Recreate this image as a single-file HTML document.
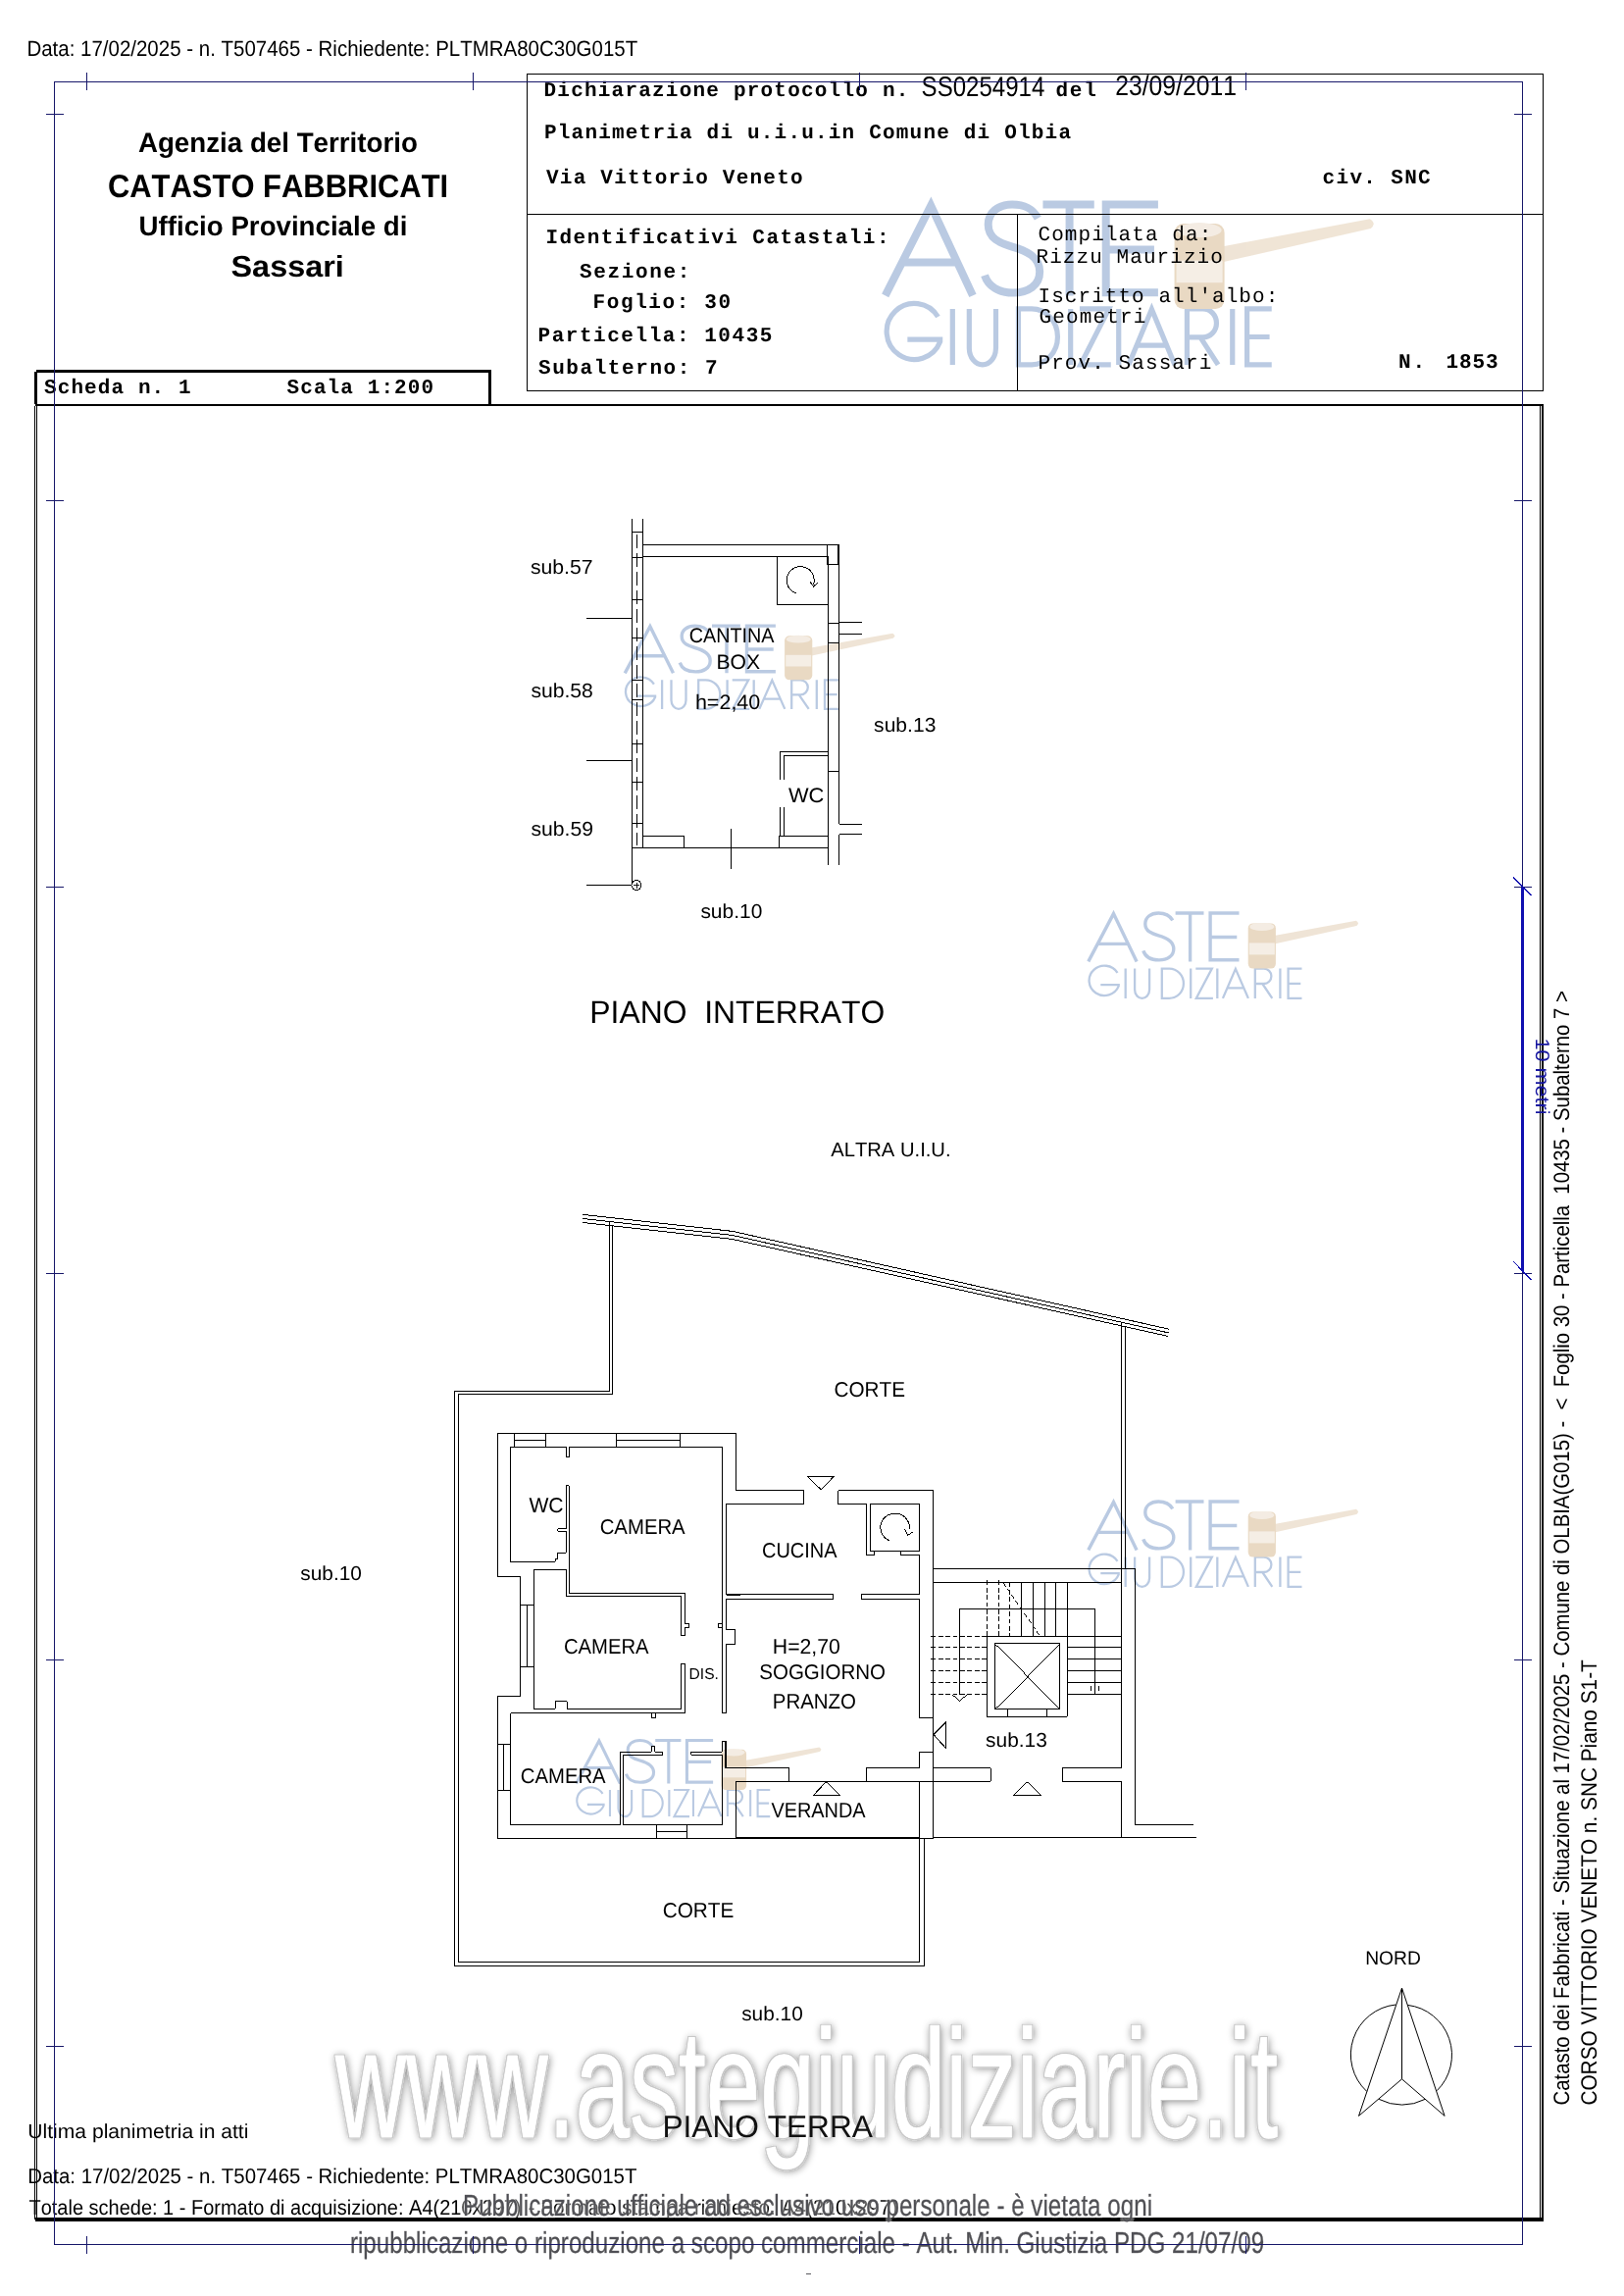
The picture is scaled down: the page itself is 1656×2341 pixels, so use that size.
<!DOCTYPE html>
<html><head><meta charset="utf-8"><title>Planimetria</title>
<style>
html,body{margin:0;padding:0;background:#fff;}
body{width:1656px;height:2341px;overflow:hidden;position:relative;font-family:"Liberation Sans",sans-serif;}
svg{position:absolute;left:0;top:0;will-change:transform;}
text{font-kerning:none;white-space:pre;}
</style></head><body>
<svg width="1656" height="2341" viewBox="0 0 1656 2341" shape-rendering="crispEdges" text-rendering="geometricPrecision">
<defs>
<filter id="wmsh" x="-5%" y="-30%" width="110%" height="160%">
  <feGaussianBlur in="SourceAlpha" stdDeviation="4" result="b"/>
  <feOffset in="b" dx="0.6" dy="1.4" result="o"/>
  <feComponentTransfer in="o" result="s"><feFuncA type="linear" slope="0.55"/></feComponentTransfer>
  <feMorphology in="SourceAlpha" operator="dilate" radius="1" result="d"/>
  <feComposite in="d" in2="SourceAlpha" operator="out" result="ring"/>
  <feFlood flood-color="#c8c8c8" result="fc"/>
  <feComposite in="fc" in2="ring" operator="in" result="ringc"/>
  <feMerge><feMergeNode in="s"/><feMergeNode in="SourceGraphic"/><feMergeNode in="ringc"/></feMerge>
</filter>
<filter id="halo" x="-5%" y="-30%" width="110%" height="160%">
  <feMorphology in="SourceAlpha" operator="dilate" radius="1.5" result="d"/>
  <feFlood flood-color="#ffffff" flood-opacity="0.35"/>
  <feComposite in2="d" operator="in" result="w"/>
  <feMerge><feMergeNode in="w"/><feMergeNode in="SourceGraphic"/></feMerge>
</filter>
</defs>
<rect x="0" y="0" width="1656" height="2341" fill="#fff"/>
<g transform="translate(900,205.5) scale(1.81,1.88)" fill="none" shape-rendering="auto" opacity="0.9">
<path d="M1.5,51 L27.2,2.2 L50.8,51 M9.8,33 H43.2 M87.5,9 C84,3 79,1.6 73,1.6 C65,1.6 59.5,6 59.5,12.5 C59.5,20 66,22.5 73,24.5 C81,26.7 88.5,30 88.5,38 C88.5,45.5 82,49.5 73.5,49.5 C65.5,49.5 59.5,46 57.5,40 M90.3,1.6 H119.2 M105.3,1.6 V51 M155.2,1.6 H125.8 V49.4 H155.2 M125.8,26.1 H153" stroke="#b3c5df" stroke-width="8.0" vector-effect="non-scaling-stroke" stroke-linejoin="miter"/>
<path d="M31.2,62.5 A15.6,15.2 0 1 0 32.4,76 V74.8 H14 M39.4,58.2 V88.5 M48.8,58.2 V79.5 A7.5,9 0 0 0 63.8,79.5 V58.2 M76.5,58.2 H84 A14.6,15.15 0 0 1 84,88.5 H76.5 Z M105.9,58.2 V88.5 M111,58.2 H127.5 L111.5,88.5 H128.6 M133,58.2 V88.5 M138.6,88.5 L151.6,58.4 L164.6,88.5 M143.3,78 H159.9 M171.5,88.5 V58.2 H180.5 A7.6,7.7 0 0 1 180.5,73.6 H171.5 M179,73.6 L189,88.5 M197.1,58.2 V88.5 M219.2,58.2 H205.3 V88.5 H219.2 M205.3,73.4 H218" stroke="#b3c5df" stroke-width="5.2" vector-effect="non-scaling-stroke"/>
<g>
<path d="M191,24.5 L274.5,9.4 Q278.5,11.8 275,14.6 L191,33 Z" fill="#eee2d2" stroke="none"/>
<rect x="164.4" y="12" width="28.2" height="46.2" rx="5" fill="#e7d5bd" stroke="none"/>
<rect x="165.5" y="32" width="26" height="12" fill="#f4ede3" stroke="none"/>
<ellipse cx="178.5" cy="15.5" rx="12.5" ry="4" fill="#f3ebe0" stroke="none"/>
</g>
</g>
<g transform="translate(635.7,636.6) scale(1.0,0.975)" fill="none" shape-rendering="auto" opacity="0.9">
<path d="M1.5,51 L27.2,2.2 L50.8,51 M9.8,33 H43.2 M87.5,9 C84,3 79,1.6 73,1.6 C65,1.6 59.5,6 59.5,12.5 C59.5,20 66,22.5 73,24.5 C81,26.7 88.5,30 88.5,38 C88.5,45.5 82,49.5 73.5,49.5 C65.5,49.5 59.5,46 57.5,40 M90.3,1.6 H119.2 M105.3,1.6 V51 M155.2,1.6 H125.8 V49.4 H155.2 M125.8,26.1 H153" stroke="#b3c5df" stroke-width="3.4" vector-effect="non-scaling-stroke" stroke-linejoin="miter"/>
<path d="M31.2,62.5 A15.6,15.2 0 1 0 32.4,76 V74.8 H14 M39.4,58.2 V88.5 M48.8,58.2 V79.5 A7.5,9 0 0 0 63.8,79.5 V58.2 M76.5,58.2 H84 A14.6,15.15 0 0 1 84,88.5 H76.5 Z M105.9,58.2 V88.5 M111,58.2 H127.5 L111.5,88.5 H128.6 M133,58.2 V88.5 M138.6,88.5 L151.6,58.4 L164.6,88.5 M143.3,78 H159.9 M171.5,88.5 V58.2 H180.5 A7.6,7.7 0 0 1 180.5,73.6 H171.5 M179,73.6 L189,88.5 M197.1,58.2 V88.5 M219.2,58.2 H205.3 V88.5 H219.2 M205.3,73.4 H218" stroke="#b3c5df" stroke-width="2.3" vector-effect="non-scaling-stroke"/>
<g>
<path d="M191,24.5 L274.5,9.4 Q278.5,11.8 275,14.6 L191,33 Z" fill="#eee2d2" stroke="none"/>
<rect x="164.4" y="12" width="28.2" height="46.2" rx="5" fill="#e7d5bd" stroke="none"/>
<rect x="165.5" y="32" width="26" height="12" fill="#f4ede3" stroke="none"/>
<ellipse cx="178.5" cy="15.5" rx="12.5" ry="4" fill="#f3ebe0" stroke="none"/>
</g>
</g>
<g transform="translate(1108.3,929.4) scale(1.0,1.0)" fill="none" shape-rendering="auto" opacity="0.9">
<path d="M1.5,51 L27.2,2.2 L50.8,51 M9.8,33 H43.2 M87.5,9 C84,3 79,1.6 73,1.6 C65,1.6 59.5,6 59.5,12.5 C59.5,20 66,22.5 73,24.5 C81,26.7 88.5,30 88.5,38 C88.5,45.5 82,49.5 73.5,49.5 C65.5,49.5 59.5,46 57.5,40 M90.3,1.6 H119.2 M105.3,1.6 V51 M155.2,1.6 H125.8 V49.4 H155.2 M125.8,26.1 H153" stroke="#b3c5df" stroke-width="3.4" vector-effect="non-scaling-stroke" stroke-linejoin="miter"/>
<path d="M31.2,62.5 A15.6,15.2 0 1 0 32.4,76 V74.8 H14 M39.4,58.2 V88.5 M48.8,58.2 V79.5 A7.5,9 0 0 0 63.8,79.5 V58.2 M76.5,58.2 H84 A14.6,15.15 0 0 1 84,88.5 H76.5 Z M105.9,58.2 V88.5 M111,58.2 H127.5 L111.5,88.5 H128.6 M133,58.2 V88.5 M138.6,88.5 L151.6,58.4 L164.6,88.5 M143.3,78 H159.9 M171.5,88.5 V58.2 H180.5 A7.6,7.7 0 0 1 180.5,73.6 H171.5 M179,73.6 L189,88.5 M197.1,58.2 V88.5 M219.2,58.2 H205.3 V88.5 H219.2 M205.3,73.4 H218" stroke="#b3c5df" stroke-width="2.3" vector-effect="non-scaling-stroke"/>
<g>
<path d="M191,24.5 L274.5,9.4 Q278.5,11.8 275,14.6 L191,33 Z" fill="#eee2d2" stroke="none"/>
<rect x="164.4" y="12" width="28.2" height="46.2" rx="5" fill="#e7d5bd" stroke="none"/>
<rect x="165.5" y="32" width="26" height="12" fill="#f4ede3" stroke="none"/>
<ellipse cx="178.5" cy="15.5" rx="12.5" ry="4" fill="#f3ebe0" stroke="none"/>
</g>
</g>
<g transform="translate(1108.3,1529.4) scale(1.0,1.0)" fill="none" shape-rendering="auto" opacity="0.9">
<path d="M1.5,51 L27.2,2.2 L50.8,51 M9.8,33 H43.2 M87.5,9 C84,3 79,1.6 73,1.6 C65,1.6 59.5,6 59.5,12.5 C59.5,20 66,22.5 73,24.5 C81,26.7 88.5,30 88.5,38 C88.5,45.5 82,49.5 73.5,49.5 C65.5,49.5 59.5,46 57.5,40 M90.3,1.6 H119.2 M105.3,1.6 V51 M155.2,1.6 H125.8 V49.4 H155.2 M125.8,26.1 H153" stroke="#b3c5df" stroke-width="3.4" vector-effect="non-scaling-stroke" stroke-linejoin="miter"/>
<path d="M31.2,62.5 A15.6,15.2 0 1 0 32.4,76 V74.8 H14 M39.4,58.2 V88.5 M48.8,58.2 V79.5 A7.5,9 0 0 0 63.8,79.5 V58.2 M76.5,58.2 H84 A14.6,15.15 0 0 1 84,88.5 H76.5 Z M105.9,58.2 V88.5 M111,58.2 H127.5 L111.5,88.5 H128.6 M133,58.2 V88.5 M138.6,88.5 L151.6,58.4 L164.6,88.5 M143.3,78 H159.9 M171.5,88.5 V58.2 H180.5 A7.6,7.7 0 0 1 180.5,73.6 H171.5 M179,73.6 L189,88.5 M197.1,58.2 V88.5 M219.2,58.2 H205.3 V88.5 H219.2 M205.3,73.4 H218" stroke="#b3c5df" stroke-width="2.3" vector-effect="non-scaling-stroke"/>
<g>
<path d="M191,24.5 L274.5,9.4 Q278.5,11.8 275,14.6 L191,33 Z" fill="#eee2d2" stroke="none"/>
<rect x="164.4" y="12" width="28.2" height="46.2" rx="5" fill="#e7d5bd" stroke="none"/>
<rect x="165.5" y="32" width="26" height="12" fill="#f4ede3" stroke="none"/>
<ellipse cx="178.5" cy="15.5" rx="12.5" ry="4" fill="#f3ebe0" stroke="none"/>
</g>
</g>
<g transform="translate(586.2,1773) scale(0.908,0.894)" fill="none" shape-rendering="auto" opacity="0.9">
<path d="M1.5,51 L27.2,2.2 L50.8,51 M9.8,33 H43.2 M87.5,9 C84,3 79,1.6 73,1.6 C65,1.6 59.5,6 59.5,12.5 C59.5,20 66,22.5 73,24.5 C81,26.7 88.5,30 88.5,38 C88.5,45.5 82,49.5 73.5,49.5 C65.5,49.5 59.5,46 57.5,40 M90.3,1.6 H119.2 M105.3,1.6 V51 M155.2,1.6 H125.8 V49.4 H155.2 M125.8,26.1 H153" stroke="#b3c5df" stroke-width="3.1" vector-effect="non-scaling-stroke" stroke-linejoin="miter"/>
<path d="M31.2,62.5 A15.6,15.2 0 1 0 32.4,76 V74.8 H14 M39.4,58.2 V88.5 M48.8,58.2 V79.5 A7.5,9 0 0 0 63.8,79.5 V58.2 M76.5,58.2 H84 A14.6,15.15 0 0 1 84,88.5 H76.5 Z M105.9,58.2 V88.5 M111,58.2 H127.5 L111.5,88.5 H128.6 M133,58.2 V88.5 M138.6,88.5 L151.6,58.4 L164.6,88.5 M143.3,78 H159.9 M171.5,88.5 V58.2 H180.5 A7.6,7.7 0 0 1 180.5,73.6 H171.5 M179,73.6 L189,88.5 M197.1,58.2 V88.5 M219.2,58.2 H205.3 V88.5 H219.2 M205.3,73.4 H218" stroke="#b3c5df" stroke-width="2.1" vector-effect="non-scaling-stroke"/>
<g>
<path d="M191,24.5 L274.5,9.4 Q278.5,11.8 275,14.6 L191,33 Z" fill="#eee2d2" stroke="none"/>
<rect x="164.4" y="12" width="28.2" height="46.2" rx="5" fill="#e7d5bd" stroke="none"/>
<rect x="165.5" y="32" width="26" height="12" fill="#f4ede3" stroke="none"/>
<ellipse cx="178.5" cy="15.5" rx="12.5" ry="4" fill="#f3ebe0" stroke="none"/>
</g>
</g>
<path d="M35.5,413.5 V2263 M37.6,413.5 V2263" fill="none" stroke="#000" stroke-width="1.0" />
<path d="M1570.5,413 V2263 M1573,413 V2263" fill="none" stroke="#000" stroke-width="1.3" />
<path d="M36,412.8 H1573.5" fill="none" stroke="#000" stroke-width="2.2" />
<path d="M36,2263 H1573.5" fill="none" stroke="#000" stroke-width="3.2" />
<path d="M36.5,378.5 H499.5 V412 M36.5,378.5 V412" fill="none" stroke="#000" stroke-width="2.5" />
<path d="M537.5,75.5 H1573.5 V398.5 H537.5 Z" fill="none" stroke="#000" stroke-width="1.3" />
<path d="M537.5,218.8 H1573.5 M1037.5,218.8 V398.5" fill="none" stroke="#000" stroke-width="1.3" />
<text x="27.4" y="57.3" font-family='"Liberation Sans", sans-serif' font-size="22.2" font-weight="normal" fill="#000" textLength="622.8" lengthAdjust="spacingAndGlyphs" >Data: 17/02/2025 - n. T507465 - Richiedente: PLTMRA80C30G015T</text>
<text x="140.9" y="154.6" font-family='"Liberation Sans", sans-serif' font-size="28.2" font-weight="bold" fill="#000" textLength="285.0" lengthAdjust="spacingAndGlyphs" >Agenzia del Territorio</text>
<text x="109.9" y="201.2" font-family='"Liberation Sans", sans-serif' font-size="33" font-weight="bold" fill="#000" textLength="347.3" lengthAdjust="spacingAndGlyphs" >CATASTO FABBRICATI</text>
<text x="141.6" y="239.8" font-family='"Liberation Sans", sans-serif' font-size="27.9" font-weight="bold" fill="#000" textLength="273.8" lengthAdjust="spacingAndGlyphs" >Ufficio Provinciale di</text>
<text x="235.5" y="282.1" font-family='"Liberation Sans", sans-serif' font-size="30.5" font-weight="bold" fill="#000" textLength="115.3" lengthAdjust="spacingAndGlyphs" >Sassari</text>
<text x="554.5" y="97.7" font-family='"Liberation Mono", monospace' font-size="21.0" font-weight="bold" fill="#000" textLength="371.8" lengthAdjust="spacing" >Dichiarazione protocollo n.</text>
<text x="939.6" y="97.5" font-family='"Liberation Sans", sans-serif' font-size="28.5" font-weight="normal" fill="#000" textLength="125.7" lengthAdjust="spacingAndGlyphs" >SS0254914</text>
<text x="1076.5" y="97.7" font-family='"Liberation Mono", monospace' font-size="21.0" font-weight="bold" fill="#000" textLength="41.3" lengthAdjust="spacing" >del</text>
<text x="1137.2" y="97.3" font-family='"Liberation Sans", sans-serif' font-size="28.5" font-weight="normal" fill="#000" textLength="123.8" lengthAdjust="spacingAndGlyphs" >23/09/2011</text>
<text x="555.0" y="141.0" font-family='"Liberation Mono", monospace' font-size="21.0" font-weight="bold" fill="#000" textLength="537.0" lengthAdjust="spacing" >Planimetria di u.i.u.in Comune di Olbia</text>
<text x="557.0" y="186.8" font-family='"Liberation Mono", monospace' font-size="21.0" font-weight="bold" fill="#000" textLength="261.6" lengthAdjust="spacing" >Via Vittorio Veneto</text>
<text x="1348.5" y="187.0" font-family='"Liberation Mono", monospace' font-size="21.0" font-weight="bold" fill="#000" textLength="110.2" lengthAdjust="spacing" >civ. SNC</text>
<text x="556.5" y="247.7" font-family='"Liberation Mono", monospace' font-size="21.0" font-weight="bold" fill="#000" textLength="350.0" lengthAdjust="spacing" >Identificativi Catastali:</text>
<text x="591.0" y="282.7" font-family='"Liberation Mono", monospace' font-size="21.0" font-weight="bold" fill="#000" textLength="112.4" lengthAdjust="spacing" >Sezione:</text>
<text x="604.5" y="314.0" font-family='"Liberation Mono", monospace' font-size="21.0" font-weight="bold" fill="#000" textLength="140.5" lengthAdjust="spacing" >Foglio: 30</text>
<text x="548.5" y="347.7" font-family='"Liberation Mono", monospace' font-size="21.0" font-weight="bold" fill="#000" textLength="238.9" lengthAdjust="spacing" >Particella: 10435</text>
<text x="549.0" y="381.0" font-family='"Liberation Mono", monospace' font-size="21.0" font-weight="bold" fill="#000" textLength="182.7" lengthAdjust="spacing" >Subalterno: 7</text>
<text x="1058.5" y="245.0" font-family='"Liberation Mono", monospace' font-size="21.0" font-weight="normal" fill="#000" textLength="176.8" lengthAdjust="spacing" >Compilata da:</text>
<text x="1056.5" y="268.0" font-family='"Liberation Mono", monospace' font-size="21.0" font-weight="normal" fill="#000" textLength="190.4" lengthAdjust="spacing" >Rizzu Maurizio</text>
<text x="1058.5" y="307.5" font-family='"Liberation Mono", monospace' font-size="21.0" font-weight="normal" fill="#000" textLength="244.8" lengthAdjust="spacing" >Iscritto all'albo:</text>
<text x="1059.5" y="329.0" font-family='"Liberation Mono", monospace' font-size="21.0" font-weight="normal" fill="#000" textLength="108.8" lengthAdjust="spacing" >Geometri</text>
<text x="1058.5" y="376.0" font-family='"Liberation Mono", monospace' font-size="21.0" font-weight="normal" fill="#000" textLength="176.8" lengthAdjust="spacing" >Prov. Sassari</text>
<text x="1426.0" y="375.0" font-family='"Liberation Mono", monospace' font-size="21.0" font-weight="bold" fill="#000" textLength="27.2" lengthAdjust="spacing" >N.</text>
<text x="1474.5" y="375.0" font-family='"Liberation Mono", monospace' font-size="21.0" font-weight="bold" fill="#000" textLength="53.2" lengthAdjust="spacing" >1853</text>
<text x="45.0" y="400.7" font-family='"Liberation Mono", monospace' font-size="21.0" font-weight="bold" fill="#000" textLength="149.6" lengthAdjust="spacing" >Scheda n. 1</text>
<text x="292.5" y="400.7" font-family='"Liberation Mono", monospace' font-size="21.0" font-weight="bold" fill="#000" textLength="149.6" lengthAdjust="spacing" >Scala 1:200</text>
<g transform="translate(1599.7,2145.5) rotate(-90)">
<text x="-1.0" y="0.0" font-family='"Liberation Sans", sans-serif' font-size="22.6" font-weight="normal" fill="#000" textLength="1136.4" lengthAdjust="spacingAndGlyphs" >Catasto dei Fabbricati - Situazione al 17/02/2025 - Comune di OLBIA(G015) -  &lt;  Foglio 30 - Particella  10435 - Subalterno 7 &gt;</text>
</g>
<g transform="translate(1627.7,2145.5) rotate(-90)">
<text x="-1.1" y="0.0" font-family='"Liberation Sans", sans-serif' font-size="22.6" font-weight="normal" fill="#000" textLength="454.4" lengthAdjust="spacingAndGlyphs" >CORSO VITTORIO VENETO n. SNC Piano S1-T</text>
</g>
<g transform="translate(1566,1060.2) rotate(90)">
<text x="-1.6" y="0.0" font-family='"Liberation Sans", sans-serif' font-size="20" font-weight="normal" fill="#1515a0" textLength="77.9" lengthAdjust="spacingAndGlyphs" >10 metri</text>
</g>
<text x="28.3" y="2179.6" font-family='"Liberation Sans", sans-serif' font-size="20.5" font-weight="normal" fill="#000" textLength="225.1" lengthAdjust="spacingAndGlyphs" >Ultima planimetria in atti</text>
<text x="28.2" y="2226.4" font-family='"Liberation Sans", sans-serif' font-size="21.5" font-weight="normal" fill="#000" textLength="621.2" lengthAdjust="spacingAndGlyphs" >Data: 17/02/2025 - n. T507465 - Richiedente: PLTMRA80C30G015T</text>
<text x="29.5" y="2257.8" font-family='"Liberation Sans", sans-serif' font-size="21.5" font-weight="normal" fill="#000" textLength="502.0" lengthAdjust="spacingAndGlyphs" >Totale schede: 1 - Formato di acquisizione: A4(210x297)</text>
<text x="538.6" y="2257.8" font-family='"Liberation Sans", sans-serif' font-size="21.5" font-weight="normal" fill="#000" textLength="376.7" lengthAdjust="spacingAndGlyphs" >- Formato stampa richiesto: A4(210x297)</text>
<path d="M644,528.7 V899.6 M655,528.7 V864.2 M644,542.8 H655 M644,568 H655 M644,611 H655 M644,650.4 H655 M644,693.7 H655 M644,713.5 H655 M644,758 H655 M644,797.6 H655 M644,839.6 H655 M655,555.2 H844 M655,567.3 H844.7 M843.6,555 H855.7 V575 H843.6 Z M844.7,567.3 V864.2 M855.7,575 V840 M855.7,850.6 V882 M844.7,864.2 V882 M844.7,635.6 H855.7 M844.7,655 H855.7 M855.7,634 H879 M855.7,646.2 H879 M855.7,840 H879.2 M855.7,850.6 H879.2 M598.4,630 H644 M598,775 H644 M598,902.5 H643.4 M792,567.3 V616.5 H844.7 M644,864.2 H843.8 M655,852.9 H697.6 V864.2 M794,864.2 V852.9 H844.7 M745.2,845 V885.5 M795.4,794.8 V766.5 H844.7 M799.6,794.8 V770.7 H844.7 M795.4,823 V852.9 M799.6,823 V852.9 M844.7,786.3 H855.7" fill="none" stroke="#000" stroke-width="1.0" />
<path d="M649.5,545 V862" fill="none" stroke="#000" stroke-width="1.0" stroke-dasharray="14,5"/>
<path d="M855.2,555 V575" fill="none" stroke="#000" stroke-width="2.2" />
<path d="M812,605 A14,14 0 1 1 829.5,596" fill="none" stroke="#000" stroke-width="1.0" />
<path d="M826,593 L829.5,598 L834,594" fill="none" stroke="#000" stroke-width="1.0" />
<circle cx="649" cy="902.5" r="5" fill="none" stroke="#000" stroke-width="1"/>
<path d="M646,902.5 H652 M649,899.5 V905.5" fill="none" stroke="#000" stroke-width="0.9" />
<text x="540.9" y="585.3" font-family='"Liberation Sans", sans-serif' font-size="20.3" font-weight="normal" fill="#000" textLength="63.7" lengthAdjust="spacingAndGlyphs" >sub.57</text>
<text x="541.4" y="711.2" font-family='"Liberation Sans", sans-serif' font-size="20.3" font-weight="normal" fill="#000" textLength="63.5" lengthAdjust="spacingAndGlyphs" >sub.58</text>
<text x="541.4" y="852.0" font-family='"Liberation Sans", sans-serif' font-size="20.3" font-weight="normal" fill="#000" textLength="63.6" lengthAdjust="spacingAndGlyphs" >sub.59</text>
<text x="891.1" y="746.0" font-family='"Liberation Sans", sans-serif' font-size="20.3" font-weight="normal" fill="#000" textLength="63.3" lengthAdjust="spacingAndGlyphs" >sub.13</text>
<text x="714.4" y="935.9" font-family='"Liberation Sans", sans-serif' font-size="20.3" font-weight="normal" fill="#000" textLength="62.9" lengthAdjust="spacingAndGlyphs" >sub.10</text>
<text x="702.7" y="654.6" font-family='"Liberation Sans", sans-serif' font-size="21" font-weight="normal" fill="#000" textLength="86.8" lengthAdjust="spacingAndGlyphs" >CANTINA</text>
<text x="730.5" y="681.5" font-family='"Liberation Sans", sans-serif' font-size="21" font-weight="normal" fill="#000" textLength="44.6" lengthAdjust="spacingAndGlyphs" >BOX</text>
<text x="708.9" y="723.4" font-family='"Liberation Sans", sans-serif' font-size="21" font-weight="normal" fill="#000" textLength="66.4" lengthAdjust="spacingAndGlyphs" >h=2,40</text>
<text x="803.9" y="817.5" font-family='"Liberation Sans", sans-serif' font-size="21" font-weight="normal" fill="#000" textLength="36.4" lengthAdjust="spacingAndGlyphs" >WC</text>
<text x="601.3" y="1042.8" font-family='"Liberation Sans", sans-serif' font-size="32.5" font-weight="normal" fill="#000" textLength="301.0" lengthAdjust="spacingAndGlyphs" >PIANO  INTERRATO</text>
<text x="847.2" y="1178.8" font-family='"Liberation Sans", sans-serif' font-size="20.3" font-weight="normal" fill="#000" textLength="122.4" lengthAdjust="spacingAndGlyphs" >ALTRA U.I.U.</text>
<path d="M594,1238.3 L747,1255.4 L1192.5,1355.3" fill="none" stroke="#000" stroke-width="1.0" />
<path d="M594,1242.4 L747,1259.5 L1191.5,1358.9" fill="none" stroke="#000" stroke-width="1.0" />
<path d="M594,1246.5 L747,1263.5 L1190.8,1362.4" fill="none" stroke="#000" stroke-width="1.0" />
<path d="M621.6,1245.3 V1418.5 H463.7 V2004.6 H942.1 V1873.5" fill="none" stroke="#000" stroke-width="1.0" />
<path d="M624.3,1249.7 V1421.4 H467.6 V2000.3 H937.8 V1873.5" fill="none" stroke="#000" stroke-width="1.0" />
<path d="M621.6,1245.3 H624.3" fill="none" stroke="#000" stroke-width="1.0" />
<path d="M1143.6,1348.9 V1613.6 M1147.2,1352.8 V1599" fill="none" stroke="#000" stroke-width="1.0" />
<g transform="translate(495,1450) scale(0.160102)" fill="none" stroke="#000" stroke-width="6.246">
<path d="M78,72 H1597 V435 H1624"/>
<path d="M78,72 V983 H222 V1187"/>
<path d="M185,72 V158 M383,72 V158 M185,117 H383 M833,72 V158 M1240,72 V158 M833,117 H1240"/>
<path d="M158,158 H515 V222 H533 V158 H1508 V1187"/>
<path d="M158,158 V888 H445 V873 H460 V833 H515 V695 H460 V680 H515 V403 H533 V1088 H1270 V1187"/>
<path d="M310,1187 V940 H515 V1108 H1248 V1187"/>
<path d="M222,1165 H310 M265,1165 V1187"/>
<path d="M1624,520 H1535 V1100 H1624 M1624,1127 H1535 V1187"/>
</g>
<g transform="translate(730,1490) scale(0.147783)" fill="none" stroke="#000" stroke-width="6.767">
<path d="M140,0 V200 H605 V295 H72 V920 H810 V950 H72 V1150"/>
<path d="M45,0 V1150"/>
<path d="M632,103 H815 L725,195 Z"/>
<path d="M845,200 H1500 V1150"/>
<path d="M845,200 V295 H1040 V645 H1092 V620"/>
<path d="M1065,295 H1405 V620 H1065 Z"/>
<path d="M1275,620 V645 H1405 V920 H1005 V950 H1405 V1150"/>
<path d="M1500,740 H1624 M1500,835 H1624"/>
<path d="M1195,545 A100,97 0 1 1 1335,470"/>
<path d="M1303,468 L1325,510 L1358,486"/>
</g>
<g transform="translate(495,1630) scale(0.160102)" fill="none" stroke="#000" stroke-width="6.246">
<path d="M222,0 V620 H78 V1530 H1624"/>
<path d="M265,40 V435 M222,40 H308 M222,435 H308"/>
<path d="M308,0 V700 H445 V655 H520 V700 H1248 V415 H1270 V728 H160 V1440 H858 V975 H1058 V940 H1080 V975 H1130 V995 H878 V1440 H1508 V995 H1310 V975 H1508 V908 H1535 V1075 H1624"/>
<path d="M1058,728 V760 H1085 V728"/>
<path d="M1248,0 V235 H1270 V185 H1298 V158 H1270 V0"/>
<path d="M1510,0 V158 H1483 V185 H1510 V728 H1535 V290 H1590 V197 H1535 V0"/>
<path d="M115,928 V1220 M78,928 H160 M78,1220 H160"/>
<path d="M1090,1440 V1530 M1283,1440 V1530 M1090,1485 H1283"/>
<path d="M1597,1165 V1530 M1597,1165 H1624"/>
</g>
<g transform="translate(740,1640) scale(0.147783)" fill="none" stroke="#000" stroke-width="6.767">
<path d="M0,915 V1100 H435 V1190"/>
<path d="M70,1580 V1192 H1624"/>
<path d="M70,1580 H1335 M0,1588 H1430"/>
<path d="M970,1190 V1100 H1335 V990 H1430"/>
<path d="M1335,0 V752 H1430"/>
<path d="M1430,0 V1588"/>
<path d="M1335,1192 V1692"/>
<path d="M605,1290 H790 L692,1195 Z"/>
<path d="M1435,870 L1520,785 V965 Z"/>
</g>
<g transform="translate(930,1580) scale(0.184730)" fill="none" stroke="#000" stroke-width="5.413">
<path d="M115,0 V1590 H1570"/>
<path d="M115,103 H1230 V1518 H1555"/>
<path d="M115,182 H1155"/>
<path d="M1155,0 V1205 H830 V1280 H1155 V1590"/>
<path d="M115,1205 H435 V1280"/>
<path d="M0,1280 H435"/>
<path d="M262,800 V325 H1010 V800"/>
<path d="M413,480 V922 H858 V182 M413,480 H1155"/>
<path d="M457,517 H815 V880 H457 Z M457,517 L815,880 M815,517 L457,880 M527,880 V922 M745,880 V922"/>
<path d="M605,182 V480 M668,182 V480 M735,182 V480 M795,182 V480"/>
<path d="M858,540 H1155 M858,605 H1155 M858,668 H1155 M858,735 H1155 M858,798 H1155"/>
<path d="M988,755 V780 M1030,755 V780"/>
<path d="M222,800 L262,835 L305,800"/>
<path d="M118,1020 L185,952 V1095 Z"/>
<path d="M560,1355 H712 L635,1282 Z"/>
</g>
<g transform="translate(930,1580) scale(0.184730)" fill="none" stroke="#000" stroke-width="5.413" stroke-dasharray="26,14">
<path d="M413,170 V480 M480,170 V480 M540,182 V480"/>
<path d="M505,185 L705,475"/>
<path d="M105,480 H413 M105,540 H413 M105,605 H413 M105,668 H413 M105,735 H413 M105,798 H413"/>
</g>
<text x="850.6" y="1424.0" font-family='"Liberation Sans", sans-serif' font-size="21.5" font-weight="normal" fill="#000" textLength="72.4" lengthAdjust="spacingAndGlyphs" >CORTE</text>
<text x="539.4" y="1541.6" font-family='"Liberation Sans", sans-serif' font-size="21.5" font-weight="normal" fill="#000" textLength="35.2" lengthAdjust="spacingAndGlyphs" >WC</text>
<text x="611.7" y="1563.7" font-family='"Liberation Sans", sans-serif' font-size="21.5" font-weight="normal" fill="#000" textLength="87.0" lengthAdjust="spacingAndGlyphs" >CAMERA</text>
<text x="777.0" y="1587.5" font-family='"Liberation Sans", sans-serif' font-size="21.5" font-weight="normal" fill="#000" textLength="76.5" lengthAdjust="spacingAndGlyphs" >CUCINA</text>
<text x="574.9" y="1685.7" font-family='"Liberation Sans", sans-serif' font-size="21.5" font-weight="normal" fill="#000" textLength="86.7" lengthAdjust="spacingAndGlyphs" >CAMERA</text>
<text x="702.6" y="1711.7" font-family='"Liberation Sans", sans-serif' font-size="16" font-weight="normal" fill="#000" textLength="30.3" lengthAdjust="spacingAndGlyphs" >DIS.</text>
<text x="530.8" y="1817.6" font-family='"Liberation Sans", sans-serif' font-size="21.5" font-weight="normal" fill="#000" textLength="86.8" lengthAdjust="spacingAndGlyphs" >CAMERA</text>
<text x="787.8" y="1685.5" font-family='"Liberation Sans", sans-serif' font-size="21.5" font-weight="normal" fill="#000" textLength="69.1" lengthAdjust="spacingAndGlyphs" >H=2,70</text>
<text x="774.3" y="1712.4" font-family='"Liberation Sans", sans-serif' font-size="21.5" font-weight="normal" fill="#000" textLength="128.7" lengthAdjust="spacingAndGlyphs" >SOGGIORNO</text>
<text x="787.8" y="1741.7" font-family='"Liberation Sans", sans-serif' font-size="21.5" font-weight="normal" fill="#000" textLength="85.2" lengthAdjust="spacingAndGlyphs" >PRANZO</text>
<text x="786.4" y="1852.5" font-family='"Liberation Sans", sans-serif' font-size="21.5" font-weight="normal" fill="#000" textLength="96.2" lengthAdjust="spacingAndGlyphs" >VERANDA</text>
<text x="1005.1" y="1781.4" font-family='"Liberation Sans", sans-serif' font-size="20.3" font-weight="normal" fill="#000" textLength="62.8" lengthAdjust="spacingAndGlyphs" >sub.13</text>
<text x="306.3" y="1610.7" font-family='"Liberation Sans", sans-serif' font-size="20.3" font-weight="normal" fill="#000" textLength="62.7" lengthAdjust="spacingAndGlyphs" >sub.10</text>
<text x="675.7" y="1954.8" font-family='"Liberation Sans", sans-serif' font-size="21.5" font-weight="normal" fill="#000" textLength="72.7" lengthAdjust="spacingAndGlyphs" >CORTE</text>
<text x="756.2" y="2060.3" font-family='"Liberation Sans", sans-serif' font-size="20.3" font-weight="normal" fill="#000" textLength="62.6" lengthAdjust="spacingAndGlyphs" >sub.10</text>
<text x="1392.2" y="2002.7" font-family='"Liberation Sans", sans-serif' font-size="19.5" font-weight="normal" fill="#000" textLength="56.7" lengthAdjust="spacingAndGlyphs" >NORD</text>
<path d="M1429.5,2027 L1385.5,2157.4 L1429.5,2119.8 L1473.1,2157.4 Z M1429.5,2027 V2119.8" fill="none" stroke="#000" stroke-width="1.0" shape-rendering="auto"/>
<path d="M1423.2,2044 A51.2,51.2 0 0 0 1393.6,2132.3 M1406.2,2140.4 A51.2,51.2 0 0 0 1453.1,2140.4 M1465.3,2131.6 A51.2,51.2 0 0 0 1435.4,2044.4" fill="none" stroke="#000" stroke-width="1.0" shape-rendering="auto"/>
<g filter="url(#wmsh)">
<text x="342.1" y="2179.0" font-family='"Liberation Sans", sans-serif' font-size="157" font-weight="normal" fill="#ffffff" textLength="961.0" lengthAdjust="spacingAndGlyphs" stroke="#fff" stroke-width="1.2" stroke-linejoin="round">www.astegiudiziarie.it</text>
</g>
<text x="675.4" y="2179.3" font-family='"Liberation Sans", sans-serif' font-size="31.5" font-weight="normal" fill="#111" textLength="214.5" lengthAdjust="spacingAndGlyphs" >PIANO TERRA</text>
<g filter="url(#halo)">
<text x="472.0" y="2259.2" font-family='"Liberation Sans", sans-serif' font-size="30.5" font-weight="normal" fill="#505054" textLength="703.0" lengthAdjust="spacingAndGlyphs" stroke="#505054" stroke-width="0.45">Pubblicazione ufficiale ad esclusivo uso personale - è vietata ogni</text>
<text x="356.9" y="2296.5" font-family='"Liberation Sans", sans-serif' font-size="30.5" font-weight="normal" fill="#505054" textLength="932.2" lengthAdjust="spacingAndGlyphs" stroke="#505054" stroke-width="0.45">ripubblicazione o riproduzione a scopo commerciale - Aut. Min. Giustizia PDG 21/07/09</text>
</g>
<path d="M821.5,2318.5 H826.5" fill="none" stroke="#5a5a5e" stroke-width="1.3" />
<path d="M55.5,83.5 H1552.5 V2288.5 H55.5 Z" fill="none" stroke="#18186a" stroke-width="1.2" />
<path d="M46.5,116.5 H64.5 M1543.5,116.5 H1561.5 M46.5,510.5 H64.5 M1543.5,510.5 H1561.5 M46.5,904.5 H64.5 M1543.5,904.5 H1561.5 M46.5,1298.5 H64.5 M1543.5,1298.5 H1561.5 M46.5,1692.5 H64.5 M1543.5,1692.5 H1561.5 M46.5,2086.5 H64.5 M1543.5,2086.5 H1561.5 M88.5,74 V92 M88.5,2279.5 V2297.5 M482.5,74 V92 M482.5,2279.5 V2297.5 M876.5,74 V92 M876.5,2279.5 V2297.5 M1270.5,74 V92 M1270.5,2279.5 V2297.5" fill="none" stroke="#18186a" stroke-width="1.2" />
<path d="M1552.6,904.5 V1295.7" fill="none" stroke="#1010b0" stroke-width="3.2" />
<path d="M1543,894.4 L1561.5,913 M1543,1286 L1561.5,1305" fill="none" stroke="#1010b0" stroke-width="1.2" />
</svg>
</body></html>
